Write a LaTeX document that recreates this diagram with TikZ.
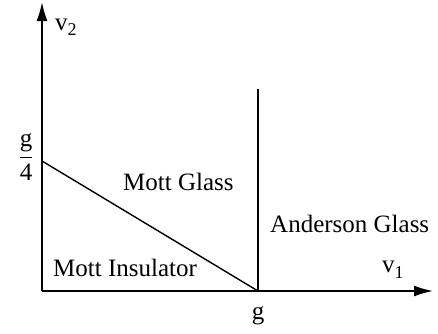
\documentclass[tikz,border=0pt]{standalone}
\usepackage{fontspec}
\setmainfont{Liberation Serif}
\usepackage{tikz}
\usetikzlibrary{arrows.meta, positioning}

\tikzset{
  axis/.style={line width=1.8pt, -{Latex[length=19pt,width=11pt]}},
  border/.style={line width=1.6pt},
  lbl/.style={inner sep=0pt, font=\fontsize{25}{29}\selectfont}
}
\newcommand{\lowsub}[1]{\raisebox{-6pt}{\fontsize{18}{18}\selectfont #1}}

\begin{document}
\begin{tikzpicture}[x=1pt,y=1pt]
    \useasboundingbox (0,0) rectangle (438,333);

    % corner points
    \coordinate (o) at (42,42);
    \coordinate (v1end) at (433,42);
    \coordinate (v2end) at (42,331);
    \coordinate (gpt) at (258,42);
    \coordinate (top) at (258,244);
    \coordinate (quarter) at (42,172);

    % axes
    \draw[axis] (o) -- (v1end);
    \draw[axis] (o) -- (v2end);

    % phase boundaries
    \draw[border] (gpt) -- (top);
    \draw[line width=1.4pt] (quarter) -- (gpt);

    % axis labels
    \node[lbl, anchor=base west] (v2) at (55,303) {v\lowsub{2}};
    \node[lbl, anchor=base west] (v1) at (382,61) {v\lowsub{1}};
    \node[lbl, anchor=base] (glbl) at (258,14) {g};
    \node[lbl] (gq) at (26,176) {$\displaystyle\frac{\mbox{g}}{\mbox{4}}$};

    % phases
    \node[lbl, anchor=base west] (mg) at (123,143) {Mott Glass};
    \node[lbl, anchor=base west] (ag) at (270,101) {Anderson Glass};
    \node[lbl, anchor=base west] (mi) at (53,57) {Mott Insulator};
\end{tikzpicture}
\end{document}
